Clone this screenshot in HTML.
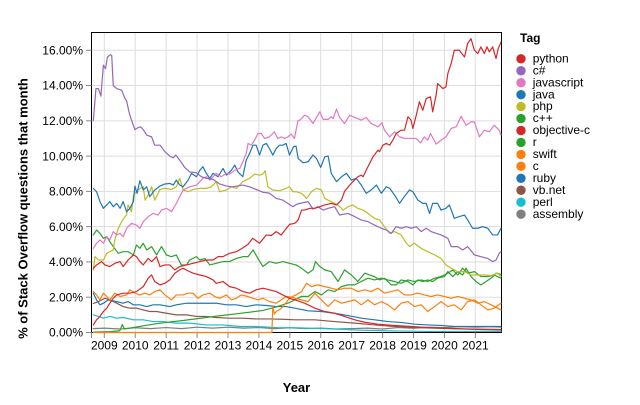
<!DOCTYPE html>
<html>
<head>
<meta charset="utf-8">
<style>
html,body{margin:0;padding:0;background:#fff;}
svg{display:block;}
text{font-family:"Liberation Sans",Arial,sans-serif;fill:#000;}
.yl{font-size:12px;text-anchor:end;}
.xl{font-size:12px;text-anchor:middle;}
.ttl{font-size:13px;font-weight:bold;}
.lg{font-size:12px;}
.s{fill:none;stroke-width:1.2;stroke-linejoin:round;stroke-linecap:round;}
</style>
</head>
<body>
<svg width="640" height="405" viewBox="0 0 640 405" xmlns="http://www.w3.org/2000/svg">
<rect width="640" height="405" fill="#fff"/>
<defs><clipPath id="cp"><rect x="91.5" y="32" width="410" height="302"/></clipPath></defs>
<!-- grid -->
<g stroke="#ddd" stroke-width="1">
<line x1="104.3" y1="32.5" x2="104.3" y2="332.5"/>
<line x1="135.22" y1="32.5" x2="135.22" y2="332.5"/>
<line x1="166.14" y1="32.5" x2="166.14" y2="332.5"/>
<line x1="197.06" y1="32.5" x2="197.06" y2="332.5"/>
<line x1="227.98" y1="32.5" x2="227.98" y2="332.5"/>
<line x1="258.9" y1="32.5" x2="258.9" y2="332.5"/>
<line x1="289.82" y1="32.5" x2="289.82" y2="332.5"/>
<line x1="320.74" y1="32.5" x2="320.74" y2="332.5"/>
<line x1="351.66" y1="32.5" x2="351.66" y2="332.5"/>
<line x1="382.58" y1="32.5" x2="382.58" y2="332.5"/>
<line x1="413.5" y1="32.5" x2="413.5" y2="332.5"/>
<line x1="444.42" y1="32.5" x2="444.42" y2="332.5"/>
<line x1="475.34" y1="32.5" x2="475.34" y2="332.5"/>
<line x1="91.5" y1="297.22" x2="501.5" y2="297.22"/>
<line x1="91.5" y1="261.94" x2="501.5" y2="261.94"/>
<line x1="91.5" y1="226.66" x2="501.5" y2="226.66"/>
<line x1="91.5" y1="191.38" x2="501.5" y2="191.38"/>
<line x1="91.5" y1="156.1" x2="501.5" y2="156.1"/>
<line x1="91.5" y1="120.82" x2="501.5" y2="120.82"/>
<line x1="91.5" y1="85.54" x2="501.5" y2="85.54"/>
<line x1="91.5" y1="50.26" x2="501.5" y2="50.26"/>
</g>
<!-- frame -->
<rect x="91.5" y="32.5" width="410" height="300" fill="none" stroke="#000" stroke-width="1"/>
<!-- ticks -->
<g stroke="#888" stroke-width="1">
<line x1="86" y1="332.5" x2="91.5" y2="332.5"/>
<line x1="86" y1="297.22" x2="91.5" y2="297.22"/>
<line x1="86" y1="261.94" x2="91.5" y2="261.94"/>
<line x1="86" y1="226.66" x2="91.5" y2="226.66"/>
<line x1="86" y1="191.38" x2="91.5" y2="191.38"/>
<line x1="86" y1="156.1" x2="91.5" y2="156.1"/>
<line x1="86" y1="120.82" x2="91.5" y2="120.82"/>
<line x1="86" y1="85.54" x2="91.5" y2="85.54"/>
<line x1="86" y1="50.26" x2="91.5" y2="50.26"/>
<line x1="91.5" y1="332.5" x2="91.5" y2="338"/>
<line x1="104.3" y1="332.5" x2="104.3" y2="338"/>
<line x1="135.22" y1="332.5" x2="135.22" y2="338"/>
<line x1="166.14" y1="332.5" x2="166.14" y2="338"/>
<line x1="197.06" y1="332.5" x2="197.06" y2="338"/>
<line x1="227.98" y1="332.5" x2="227.98" y2="338"/>
<line x1="258.9" y1="332.5" x2="258.9" y2="338"/>
<line x1="289.82" y1="332.5" x2="289.82" y2="338"/>
<line x1="320.74" y1="332.5" x2="320.74" y2="338"/>
<line x1="351.66" y1="332.5" x2="351.66" y2="338"/>
<line x1="382.58" y1="332.5" x2="382.58" y2="338"/>
<line x1="413.5" y1="332.5" x2="413.5" y2="338"/>
<line x1="444.42" y1="332.5" x2="444.42" y2="338"/>
<line x1="475.34" y1="332.5" x2="475.34" y2="338"/>
</g>
<!-- y labels -->
<text class="yl" x="83" y="336.7">0.00%</text>
<text class="yl" x="83" y="301.4">2.00%</text>
<text class="yl" x="83" y="266.1">4.00%</text>
<text class="yl" x="83" y="230.9">6.00%</text>
<text class="yl" x="83" y="195.6">8.00%</text>
<text class="yl" x="83" y="160.3">10.00%</text>
<text class="yl" x="83" y="125.0">12.00%</text>
<text class="yl" x="83" y="89.7">14.00%</text>
<text class="yl" x="83" y="54.5">16.00%</text>
<!-- x labels -->
<text class="xl" x="104.3" y="349.5">2009</text>
<text class="xl" x="135.22" y="349.5">2010</text>
<text class="xl" x="166.14" y="349.5">2011</text>
<text class="xl" x="197.06" y="349.5">2012</text>
<text class="xl" x="227.98" y="349.5">2013</text>
<text class="xl" x="258.9" y="349.5">2014</text>
<text class="xl" x="289.82" y="349.5">2015</text>
<text class="xl" x="320.74" y="349.5">2016</text>
<text class="xl" x="351.66" y="349.5">2017</text>
<text class="xl" x="382.58" y="349.5">2018</text>
<text class="xl" x="413.5" y="349.5">2019</text>
<text class="xl" x="444.42" y="349.5">2020</text>
<text class="xl" x="475.34" y="349.5">2021</text>
<!-- axis titles -->
<text class="ttl" x="296.5" y="392" text-anchor="middle">Year</text>
<text class="ttl" transform="translate(27.5,208.5) rotate(-90)" text-anchor="middle">% of Stack Overflow questions that month</text>

<!-- series -->
<g clip-path="url(#cp)">
<g transform="matrix(30.92 0 0 -17.64 104.3 332.5)">
<!-- assembly -->
<polyline class="s" vector-effect="non-scaling-stroke" stroke="#7f7f7f" points="-0.36,0.22 0,0.25 0.5,0.2 1,0.27 1.5,0.22 2,0.28 2.5,0.22 3,0.3 3.5,0.25 4,0.3 4.5,0.25 5,0.28 5.5,0.22 6,0.27 6.5,0.22 7,0.25 7.5,0.2 8,0.22 8.5,0.25 9,0.2 9.5,0.28 10,0.24 10.5,0.3 11,0.28 11.5,0.33 12,0.3 12.5,0.33 12.83,0.3"/>
<!-- perl -->
<polyline class="s" vector-effect="non-scaling-stroke" stroke="#17becf" points="-0.355,1.0 -0.19,0.91 -0.03,0.81 0.18,0.91 0.4,0.81 0.61,0.85 0.94,0.72 1.26,0.72 1.58,0.62 1.9,0.62 2.33,0.53 2.76,0.53 3.3,0.43 3.84,0.43 4.38,0.34 4.91,0.34 5.56,0.28 6.16,0.27 7.24,0.21 8.31,0.13 9.39,0.09 10.46,0.06 12.83,0.06"/>
<!-- vb.net -->
<polyline class="s" vector-effect="non-scaling-stroke" stroke="#8c564b" points="-0.355,1.65 -0.19,1.75 0.02,1.94 0.18,1.85 0.4,1.66 0.61,1.47 0.83,1.38 1.04,1.38 1.26,1.28 1.47,1.19 1.69,1.19 2.01,1.09 2.33,1.0 2.66,1.0 2.98,0.91 3.3,0.91 3.62,0.85 4.05,0.81 4.48,0.81 4.91,0.77 5.34,0.77 5.77,0.75 6.16,0.72 6.81,0.72 7.45,0.62 8.1,0.53 8.74,0.43 9.39,0.34 10.03,0.28 10.68,0.25 11.32,0.21 11.97,0.19 12.83,0.17"/>
<!-- ruby -->
<polyline class="s" vector-effect="non-scaling-stroke" stroke="#1f77b4" points="-0.355,2.23 -0.25,1.85 -0.14,1.57 -0.03,1.66 0.13,1.85 0.4,1.75 0.61,1.66 0.77,1.75 0.94,1.57 1.15,1.57 1.37,1.47 1.58,1.57 1.8,1.57 2.12,1.47 2.33,1.57 2.66,1.66 2.98,1.66 3.3,1.66 3.62,1.66 3.95,1.57 4.27,1.57 4.59,1.47 4.91,1.57 5.24,1.53 5.56,1.47 5.88,1.47 6.16,1.38 6.59,1.23 7.02,1.19 7.45,1.09 7.88,0.96 8.31,0.81 8.74,0.72 9.17,0.62 9.6,0.57 10.03,0.47 10.46,0.43 10.89,0.4 11.32,0.34 11.75,0.34 12.18,0.34 12.83,0.34"/>
<!-- r -->
<polyline class="s" vector-effect="non-scaling-stroke" stroke="#2ca02c" points="-0.355,0.02 0.2,0.05 0.5,0.1 0.58,0.45 0.65,0.2 0.9,0.27 1.26,0.38 1.69,0.5 2.12,0.6 2.55,0.68 2.98,0.78 3.41,0.88 3.84,0.97 4.27,1.06 4.7,1.15 5.13,1.25 5.56,1.45 5.99,1.7 6.16,1.85 6.38,2.05 6.59,2.04 6.81,2.32 7.02,2.13 7.24,2.42 7.45,2.32 7.67,2.6 7.88,2.7 8.1,2.7 8.31,2.89 8.53,3.08 8.74,2.98 8.96,3.08 9.17,2.98 9.39,2.89 9.6,2.79 9.82,2.98 10.03,2.89 10.25,2.98 10.46,2.89 10.68,3.08 10.89,3.17 11.11,3.36 11.27,3.55 11.43,3.26 11.59,3.64 11.75,3.36 11.97,3.45 12.18,3.17 12.4,3.17 12.61,3.26 12.83,3.08"/>
<!-- c -->
<polyline class="s" vector-effect="non-scaling-stroke" stroke="#ff7f0e" points="-0.355,2.32 -0.25,2.13 -0.14,1.85 -0.03,2.23 0.08,2.04 0.18,1.85 0.34,2.23 0.51,2.04 0.72,2.13 0.83,2.42 0.99,2.23 1.15,2.13 1.31,2.23 1.47,2.13 1.63,2.32 1.8,2.42 1.96,2.13 2.17,1.85 2.33,2.13 2.55,2.13 2.71,2.23 2.87,2.23 3.03,1.94 3.19,2.13 3.41,2.23 3.57,2.04 3.73,1.94 3.95,2.13 4.11,1.85 4.27,1.94 4.43,2.13 4.65,2.04 4.81,1.94 4.97,1.85 5.13,1.94 5.34,1.75 5.56,1.66 5.72,1.85 5.88,2.04 6.1,2.0 6.16,1.94 6.38,1.85 6.59,1.75 6.81,2.23 7.02,1.85 7.24,1.47 7.45,1.85 7.67,1.66 7.88,1.75 8.1,1.85 8.31,1.57 8.53,1.85 8.74,1.57 8.96,1.75 9.17,1.57 9.39,1.28 9.6,1.66 9.82,1.75 10.03,1.47 10.25,1.57 10.46,1.19 10.68,1.47 10.89,1.75 11.11,1.47 11.32,1.57 11.54,1.28 11.75,1.75 11.97,1.85 12.18,1.57 12.4,1.28 12.61,1.38 12.83,1.66"/>
<!-- swift -->
<polyline class="s" vector-effect="non-scaling-stroke" stroke="#ff7f0e" points="-0.36,0 5.42,0 5.45,1.47 5.5,1.05 5.56,1.19 5.67,1.3 5.77,1.45 5.88,1.7 5.99,1.94 6.1,2.05 6.2,2.13 6.38,2.32 6.54,2.79 6.7,2.6 6.91,2.7 7.13,2.6 7.34,2.51 7.56,2.42 7.77,2.51 7.99,2.51 8.2,2.32 8.42,2.42 8.63,2.32 8.85,2.51 9.06,2.23 9.28,2.32 9.49,2.42 9.71,2.13 9.92,2.13 10.14,2.23 10.35,2.13 10.57,2.04 10.78,2.13 11.0,2.04 11.22,1.94 11.43,2.04 11.65,1.94 11.86,1.85 12.08,1.66 12.29,1.75 12.51,1.57 12.72,1.38 12.83,1.28"/>
<!-- objective-c -->
<polyline class="s" vector-effect="non-scaling-stroke" stroke="#d62728" points="-0.355,0.43 -0.25,0.72 -0.14,0.91 -0.03,1.19 0.08,1.38 0.18,1.66 0.29,1.94 0.4,2.13 0.61,2.23 0.83,2.23 1.04,2.32 1.26,2.6 1.42,3.08 1.53,3.26 1.63,2.89 1.8,2.7 1.96,2.79 2.12,2.98 2.28,3.36 2.44,3.55 2.55,3.64 2.7,3.5 2.87,3.36 3.09,3.26 3.3,3.17 3.52,2.98 3.62,2.79 3.84,2.89 4.05,2.6 4.27,2.51 4.48,2.32 4.7,2.23 4.91,2.42 5.13,2.51 5.34,2.42 5.56,2.32 5.77,2.13 5.99,1.94 6.16,1.85 6.48,1.66 6.81,1.38 7.13,1.19 7.45,1.09 7.77,0.91 8.1,0.72 8.42,0.58 8.85,0.47 9.39,0.4 9.92,0.34 10.46,0.28 11.0,0.25 11.54,0.21 12.18,0.17 12.83,0.15"/>
<!-- c++ -->
<polyline class="s" vector-effect="non-scaling-stroke" stroke="#2ca02c" points="-0.355,5.53 -0.25,5.81 -0.14,5.62 -0.03,5.34 0.08,5.43 0.18,5.15 0.29,4.87 0.45,4.49 0.61,4.58 0.77,4.58 0.94,4.4 1.04,4.96 1.15,4.77 1.26,5.06 1.37,4.68 1.53,4.87 1.69,4.4 1.85,4.87 2.01,4.4 2.17,4.3 2.33,4.4 2.49,3.83 2.66,3.83 2.76,4.11 2.98,4.3 3.09,4.11 3.25,4.2 3.41,3.83 3.62,3.92 3.84,4.02 4.05,4.02 4.27,4.2 4.48,4.3 4.65,4.3 4.81,4.68 4.97,4.2 5.13,3.74 5.34,4.02 5.56,3.92 5.77,4.02 5.99,3.92 6.2,3.83 6.38,3.64 6.59,3.36 6.75,3.55 6.83,4.02 6.97,3.74 7.13,3.55 7.34,3.45 7.56,2.89 7.77,3.55 7.99,3.26 8.2,2.89 8.42,3.36 8.58,3.26 8.74,3.17 8.9,2.98 9.06,3.08 9.28,2.7 9.44,2.7 9.6,2.98 9.82,2.89 9.98,2.7 10.14,2.98 10.3,2.89 10.46,2.98 10.62,2.89 10.78,3.08 11.0,3.17 11.11,3.45 11.27,3.17 11.43,3.45 11.59,3.26 11.7,3.64 11.86,3.17 12.02,2.89 12.18,2.7 12.35,2.89 12.51,3.08 12.67,3.36 12.83,3.3"/>
<!-- php -->
<polyline class="s" vector-effect="non-scaling-stroke" stroke="#bcbd22" points="-0.355,3.55 -0.3,4.3 -0.19,4.11 -0.03,4.11 0.08,4.49 0.29,4.68 0.34,5.25 0.45,5.9 0.56,6.28 0.67,6.57 0.72,6.66 0.77,7.23 0.88,6.85 0.94,7.75 0.99,7.89 1.1,8.1 1.26,8.26 1.32,7.5 1.42,7.79 1.53,8.26 1.63,7.5 1.8,8.11 1.96,8.17 2.17,8.11 2.33,8.26 2.44,8.74 2.55,8.08 2.71,7.98 2.87,8.11 3.09,8.17 3.3,8.17 3.46,8.26 3.62,8.55 3.73,7.98 3.95,8.08 4.11,8.26 4.27,8.17 4.48,8.55 4.7,8.74 4.86,8.98 5.02,8.92 5.13,8.98 5.2,9.17 5.29,8.26 5.45,8.08 5.67,8.04 5.88,8.17 5.99,8.26 6.1,7.98 6.2,7.98 6.38,7.89 6.54,7.6 6.7,7.98 6.86,8.17 7.02,8.08 7.13,7.6 7.34,7.42 7.56,7.23 7.72,6.94 7.88,7.13 8.04,7.23 8.2,7.04 8.37,6.94 8.53,6.75 8.74,6.47 8.9,6.38 9.06,6.0 9.23,5.62 9.39,5.72 9.6,5.53 9.77,5.06 9.87,4.87 10.03,5.06 10.25,4.77 10.46,4.58 10.68,4.4 10.89,4.2 11.05,3.83 11.22,3.64 11.43,3.45 11.65,3.45 11.86,3.26 12.08,3.26 12.29,3.26 12.51,3.23 12.72,3.36 12.83,3.17"/>
<!-- java -->
<polyline class="s" vector-effect="non-scaling-stroke" stroke="#1f77b4" points="-0.355,8.17 -0.25,7.98 -0.14,7.42 -0.03,7.04 0.08,7.23 0.18,7.42 0.29,7.13 0.4,7.32 0.51,7.04 0.61,7.42 0.72,6.85 0.83,7.04 0.94,7.42 0.99,8.3 1.06,7.89 1.15,8.6 1.26,8.08 1.37,8.26 1.47,7.7 1.63,8.08 1.8,8.3 1.96,8.42 2.12,8.45 2.23,8.36 2.33,8.64 2.44,8.36 2.55,8.26 2.71,8.64 2.82,9.02 2.98,8.83 3.09,9.2 3.19,9.4 3.3,9.02 3.41,8.74 3.52,9.02 3.68,8.83 3.84,9.3 3.95,8.92 4.11,9.2 4.22,9.49 4.32,9.11 4.48,8.83 4.59,9.77 4.7,10.15 4.81,10.62 4.91,10.62 5.02,10.06 5.13,10.62 5.24,10.72 5.34,10.43 5.45,10.06 5.56,10.43 5.67,10.62 5.77,10.62 5.88,10.72 5.99,10.06 6.12,10.53 6.2,10.57 6.27,9.87 6.43,9.62 6.59,9.68 6.75,10.06 6.86,9.87 7.0,9.36 7.13,9.96 7.24,10.0 7.34,9.02 7.51,8.55 7.67,8.83 7.83,9.02 7.99,8.64 8.15,8.74 8.31,8.36 8.47,7.89 8.63,8.08 8.8,8.36 8.96,7.89 9.12,8.26 9.23,8.17 9.39,7.79 9.55,7.32 9.66,7.6 9.87,8.08 9.98,7.98 10.14,7.51 10.3,7.32 10.41,7.32 10.52,6.75 10.62,7.32 10.78,7.32 10.89,6.94 11.05,7.04 11.16,7.23 11.32,6.47 11.48,6.57 11.65,6.66 11.75,6.38 11.91,5.91 12.08,5.91 12.24,6.0 12.4,5.91 12.56,5.53 12.72,5.53 12.83,5.91"/>
<!-- javascript -->
<polyline class="s" vector-effect="non-scaling-stroke" stroke="#e377c2" points="-0.355,4.77 -0.25,5.06 -0.14,5.25 -0.03,5.06 0.08,5.43 0.18,5.25 0.29,5.72 0.4,5.53 0.51,5.62 0.61,5.43 0.72,5.9 0.88,6.19 1.04,6.09 1.15,5.9 1.26,6.28 1.42,6.57 1.58,6.75 1.74,6.66 1.85,6.94 2.01,7.04 2.17,6.85 2.33,7.32 2.44,7.7 2.55,8.08 2.76,8.26 2.98,8.36 3.19,8.74 3.3,8.83 3.41,8.64 3.52,8.83 3.62,9.02 3.78,8.83 3.95,9.02 4.05,8.98 4.22,9.2 4.38,9.3 4.48,9.68 4.59,10.15 4.65,10.72 4.75,10.62 4.86,10.9 4.97,11.28 5.08,11.28 5.18,11.0 5.34,11.09 5.5,11.38 5.61,11.0 5.72,11.09 5.83,11.0 5.94,11.09 6.04,11.25 6.15,11.0 6.26,12.0 6.32,12.04 6.48,12.32 6.59,12.23 6.75,11.85 6.97,12.51 7.08,12.08 7.24,12.08 7.34,12.23 7.4,12.13 7.51,12.66 7.61,12.19 7.77,11.85 7.94,12.32 8.1,12.19 8.31,12.04 8.47,12.19 8.63,11.85 8.85,11.66 8.98,11.89 9.06,11.47 9.23,11.09 9.39,11.38 9.55,11.09 9.71,11.0 9.92,11.0 10.09,11.0 10.23,10.75 10.35,11.09 10.46,10.9 10.55,11.28 10.73,10.68 10.89,10.9 11.05,11.09 11.22,11.57 11.38,11.66 11.54,12.26 11.7,11.75 11.86,11.94 11.97,11.94 12.13,11.09 12.29,11.47 12.45,11.38 12.61,11.75 12.77,11.47 12.83,11.19"/>
<!-- c# -->
<polyline class="s" vector-effect="non-scaling-stroke" stroke="#9467bd" points="-0.355,12.0 -0.27,13.83 -0.19,13.83 -0.11,13.4 -0.03,15.15 0.04,14.96 0.1,15.62 0.2,15.75 0.24,15.7 0.29,14.0 0.4,13.83 0.5,13.77 0.56,13.74 0.67,13.26 0.72,13.13 0.81,12.42 0.88,12.04 0.99,11.5 1.1,11.62 1.17,11.66 1.26,11.5 1.37,11.19 1.53,11.09 1.63,10.62 1.8,10.62 1.96,10.25 2.12,10.0 2.23,9.9 2.31,10.06 2.44,9.77 2.6,9.36 2.76,9.1 2.98,9.06 3.14,8.83 3.3,8.74 3.52,8.68 3.73,8.42 3.95,8.3 4.16,8.26 4.48,8.36 4.7,8.26 4.91,8.11 5.13,7.95 5.34,7.9 5.56,7.6 5.77,7.51 6.1,7.13 6.2,7.25 6.32,7.32 6.59,7.42 6.75,7.0 6.91,7.13 7.08,6.94 7.24,7.04 7.45,7.13 7.61,6.66 7.88,6.75 8.1,6.57 8.31,6.38 8.53,6.28 8.74,6.09 8.96,5.91 9.12,5.81 9.28,5.62 9.44,6.0 9.6,5.91 9.77,6.0 9.92,5.91 10.09,6.0 10.25,5.72 10.41,5.91 10.57,5.72 10.73,5.62 10.89,5.53 11.11,5.34 11.22,4.87 11.43,4.87 11.59,4.68 11.75,4.87 11.97,4.4 12.18,4.3 12.4,4.2 12.56,4.02 12.67,4.11 12.77,4.49 12.83,4.58"/>
<!-- python -->
<polyline class="s" vector-effect="non-scaling-stroke" stroke="#d62728" points="-0.355,3.64 -0.25,3.83 -0.09,4.02 0.02,3.83 0.18,3.74 0.34,3.92 0.51,4.02 0.61,3.74 0.77,4.11 0.94,4.4 1.04,4.3 1.15,4.02 1.26,3.83 1.42,4.2 1.53,4.02 1.69,4.3 1.8,3.74 1.96,3.83 2.12,3.83 2.28,3.55 2.44,3.74 2.66,3.83 2.87,3.92 3.09,4.02 3.3,4.11 3.52,4.11 3.68,4.3 3.84,4.3 4.05,4.49 4.27,4.58 4.48,4.8 4.65,5.0 4.8,5.34 5.02,5.06 5.24,5.53 5.4,5.5 5.56,5.72 5.72,5.53 5.99,6.13 6.16,6.19 6.27,6.38 6.38,6.94 6.48,6.94 6.65,7.04 6.81,7.04 6.97,7.13 7.13,7.23 7.34,7.32 7.51,7.23 7.67,7.51 7.77,8.0 7.94,8.36 8.04,8.55 8.2,8.83 8.31,8.92 8.37,8.83 8.47,9.2 8.58,9.58 8.69,9.96 8.85,10.34 8.9,10.25 9.01,10.62 9.12,10.72 9.23,10.62 9.33,10.9 9.44,11.28 9.6,11.47 9.71,11.47 9.82,12.23 9.92,12.04 9.98,11.57 10.09,12.32 10.19,13.08 10.3,12.6 10.41,13.26 10.55,13.36 10.62,12.51 10.73,13.45 10.78,14.11 10.95,13.83 11.05,13.92 11.11,14.68 11.22,15.25 11.32,16.0 11.48,16.0 11.65,15.62 11.75,16.38 11.86,16.66 11.97,16.0 12.08,15.81 12.18,16.19 12.29,15.81 12.38,16.19 12.45,15.91 12.56,16.19 12.67,15.53 12.74,16.09 12.83,16.47"/>
</g>
</g>

<!-- legend -->
<text x="520" y="42" style="font-size:12px;font-weight:bold;">Tag</text>
<g>
<circle cx="521" cy="58.8" r="4.7" fill="#d62728"/><text class="lg" x="532.7" y="62.4">python</text>
<circle cx="521" cy="70.75" r="4.7" fill="#9467bd"/><text class="lg" x="532.7" y="74.35">c#</text>
<circle cx="521" cy="82.7" r="4.7" fill="#e377c2"/><text class="lg" x="532.7" y="86.3">javascript</text>
<circle cx="521" cy="94.65" r="4.7" fill="#1f77b4"/><text class="lg" x="532.7" y="98.25">java</text>
<circle cx="521" cy="106.6" r="4.7" fill="#bcbd22"/><text class="lg" x="532.7" y="110.2">php</text>
<circle cx="521" cy="118.55" r="4.7" fill="#2ca02c"/><text class="lg" x="532.7" y="122.15">c++</text>
<circle cx="521" cy="130.5" r="4.7" fill="#d62728"/><text class="lg" x="532.7" y="134.1">objective-c</text>
<circle cx="521" cy="142.45" r="4.7" fill="#2ca02c"/><text class="lg" x="532.7" y="146.05">r</text>
<circle cx="521" cy="154.4" r="4.7" fill="#ff7f0e"/><text class="lg" x="532.7" y="158.0">swift</text>
<circle cx="521" cy="166.35" r="4.7" fill="#ff7f0e"/><text class="lg" x="532.7" y="169.95">c</text>
<circle cx="521" cy="178.3" r="4.7" fill="#1f77b4"/><text class="lg" x="532.7" y="181.9">ruby</text>
<circle cx="521" cy="190.25" r="4.7" fill="#8c564b"/><text class="lg" x="532.7" y="193.85">vb.net</text>
<circle cx="521" cy="202.2" r="4.7" fill="#17becf"/><text class="lg" x="532.7" y="205.8">perl</text>
<circle cx="521" cy="214.15" r="4.7" fill="#7f7f7f"/><text class="lg" x="532.7" y="217.75">assembly</text>
</g>
</svg>
</body>
</html>
